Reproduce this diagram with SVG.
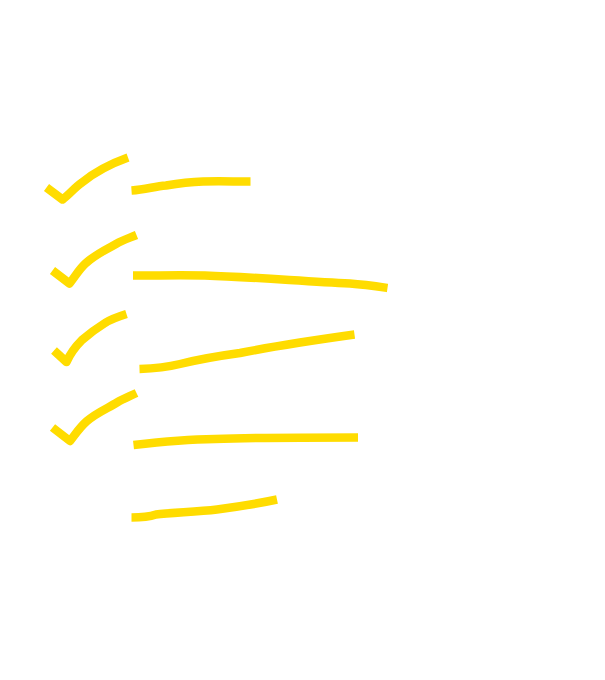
<svg xmlns="http://www.w3.org/2000/svg" width="605" height="680" viewBox="0 0 605 680">
<style>
.s{fill:none;stroke:#ffdc00;stroke-width:8.500;stroke-linecap:butt;stroke-linejoin:round}
</style>
<rect width="605" height="680" fill="#ffffff"/>
<g id="marks">
<path id="check1" class="s" d="M46.500 187.500 L62.500 199.500 C70 194 74 188 82 182.500 C96 171 110 164 128 157.500"/>
<path id="line1" class="s" d="M131.500 190.500 C146 189.500 154 186.500 166 185.500 C178 183.500 190 182 203 181.500 C218 181 233 181.500 250.500 181.500"/>
<path id="check2" class="s" d="M52.500 270.500 L69.500 283.500 C75 277 79 269 86 263 C96 254 107 249 116 244 C122 240.500 128 238.500 136.500 235"/>
<path id="line2" class="s" d="M133 275.500 C160 275.500 180 275 205 275.500 C250 277 300 281 350 283.500 C364 284.500 374 286 387.500 288"/>
<path id="check3" class="s" d="M54 350.500 L66.500 362 C70 354 75 347 82 340 C90 333 97 328 105 323 C111 319 117 317 126.500 314"/>
<path id="line3" class="s" d="M139.500 369 C156 368.500 168 367 180 364 C198 359.500 218 356 240 353 C278 345.500 315 340 354.500 334.500"/>
<path id="check4" class="s" d="M52.500 427.500 L70 441 C75 435 79 428 87 421 C96 413 108 408 117 402.500 C123 399 128 397 136.500 393"/>
<path id="line4" class="s" d="M133.500 445 C160 442 185 439.500 215 439 C260 437.500 310 437.500 358 437.500"/>
<path id="line5" class="s" d="M131.500 517.500 C142 517.500 150 516.500 156 514.500 C170 512.500 195 512 217 509.500 C236 507 256 504 277 499.500"/>
</g>
</svg>
